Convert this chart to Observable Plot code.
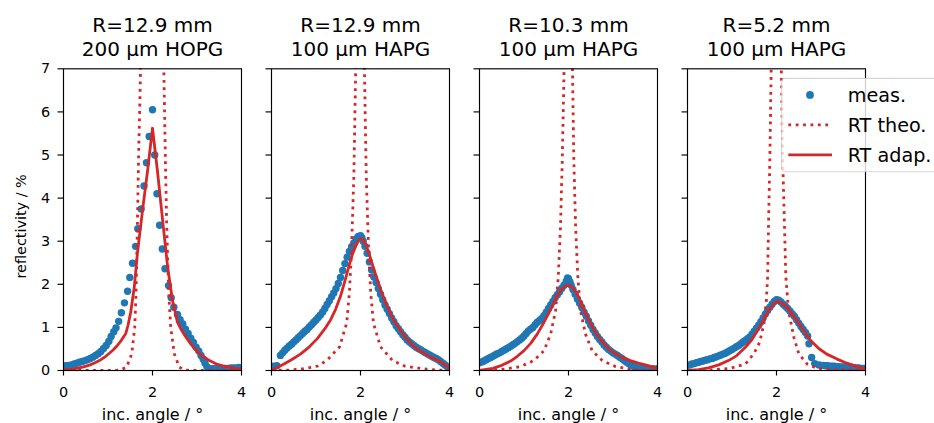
<!DOCTYPE html>
<html><head><meta charset="utf-8">
<script src="https://cdn.jsdelivr.net/npm/d3@7"></script>
<script src="https://cdn.jsdelivr.net/npm/@observablehq/plot@0.6"></script>
<style>
body{margin:0;background:#fff;}
#wrap{position:relative;width:934px;height:423px;overflow:hidden;font-family:"DejaVu Sans";}
</style></head><body><div id="wrap"></div>
<script>
// ---- panel labels ----
const panelIds = [0, 1, 2, 3];
const radius = ["R=12.9 mm", "R=12.9 mm", "R=10.3 mm", "R=5.2 mm"];
const crystal = ["200 µm HOPG", "100 µm HAPG", "100 µm HAPG", "100 µm HAPG"];
const xLabel = "inc. angle / °";
const yLabel = "reflectivity / %";
const xTicks = [0, 2, 4];
const yTicks = [0, 1, 2, 3, 4, 5, 6, 7];
const legendLabels = ["meas.", "RT theo.", "RT adap."];

// ---- panel 1: R=12.9 mm, 200 µm HOPG ----
const meas1 = [[0.00,0.10],[0.06,0.11],[0.12,0.12],[0.18,0.13],[0.24,0.15],[0.30,0.17],[0.36,0.19],[0.42,0.21],[0.48,0.23],[0.54,0.25],[0.60,0.28],[0.66,0.31],[0.72,0.35],[0.78,0.39],[0.84,0.44],[0.90,0.51],[0.96,0.58],[1.02,0.68],[1.07,0.79],[1.13,0.90],[1.18,0.99],[1.24,1.14],[1.30,1.34],[1.37,1.57],[1.44,1.84],[1.49,2.16],[1.55,2.49],[1.62,2.88],[1.67,3.29],[1.745,3.75],[1.81,4.28],[1.865,4.82],[1.925,5.43],[2.00,6.05],[2.05,5.00],[2.10,4.10],[2.16,3.37],[2.22,2.82],[2.28,2.36],[2.36,1.97],[2.42,1.69],[2.48,1.47],[2.56,1.30],[2.62,1.18],[2.68,1.08],[2.74,0.96],[2.80,0.86],[2.86,0.75],[2.92,0.65],[2.98,0.54],[3.04,0.45],[3.09,0.35],[3.14,0.26],[3.18,0.17],[3.22,0.09],[3.28,0.05],[3.34,0.04],[3.40,0.04],[3.46,0.04],[3.52,0.04],[3.58,0.05],[3.64,0.05],[3.70,0.05],[3.76,0.06],[3.82,0.06],[3.88,0.06],[3.94,0.07],[4.00,0.06]];
const theo1 = [[0,0],[1.0,0],[1.2,0.005],[1.30,0.02],[1.42,0.08],[1.535,0.39],[1.60,1.0],[1.63,1.78],[1.66,3.33],[1.685,4.87],[1.72,6.42],[1.73,6.96],[1.76,9],[1.85,11],[2.0,12],[2.15,11],[2.24,9],[2.255,6.96],[2.29,4.87],[2.32,3.33],[2.365,1.78],[2.41,1.0],[2.49,0.39],[2.60,0.08],[2.70,0.02],[2.8,0.005],[3.0,0],[4.0,0]];
const adap1 = [[0,0.01],[0.2,0.03],[0.43,0.08],[0.6,0.13],[0.73,0.19],[0.84,0.25],[0.95,0.33],[1.03,0.40],[1.12,0.48],[1.21,0.58],[1.30,0.70],[1.40,0.86],[1.45,1.05],[1.51,1.35],[1.59,1.93],[1.66,2.71],[1.775,3.71],[1.89,4.64],[2.0,5.62],[2.11,4.64],[2.22,3.56],[2.34,2.40],[2.45,1.62],[2.56,1.12],[2.66,0.92],[2.76,0.76],[2.87,0.60],[2.98,0.47],[3.09,0.36],[3.28,0.23],[3.46,0.14],[3.58,0.11],[3.76,0.07],[3.92,0.04],[4.0,0.03]];

// ---- panel 2: R=12.9 mm, 100 µm HAPG ----
const meas2 = [[0.05,0.10],[0.12,0.11],[0.20,0.35],[0.25,0.41],[0.30,0.47],[0.35,0.52],[0.40,0.57],[0.45,0.61],[0.50,0.66],[0.55,0.71],[0.60,0.76],[0.65,0.81],[0.70,0.86],[0.75,0.91],[0.80,0.95],[0.85,1.01],[0.90,1.06],[0.95,1.12],[1.00,1.17],[1.05,1.23],[1.10,1.29],[1.15,1.36],[1.20,1.44],[1.25,1.53],[1.30,1.62],[1.35,1.71],[1.40,1.80],[1.45,1.90],[1.50,2.02],[1.55,2.16],[1.60,2.32],[1.65,2.48],[1.70,2.63],[1.75,2.76],[1.80,2.87],[1.85,2.96],[1.90,3.05],[1.95,3.11],[2.00,3.13],[2.03,3.08],[2.06,3.00],[2.10,2.88],[2.15,2.72],[2.20,2.52],[2.25,2.33],[2.30,2.17],[2.35,2.04],[2.40,1.90],[2.45,1.77],[2.50,1.64],[2.55,1.52],[2.60,1.42],[2.65,1.32],[2.70,1.22],[2.75,1.13],[2.80,1.04],[2.85,0.97],[2.90,0.90],[2.95,0.83],[3.00,0.77],[3.05,0.71],[3.10,0.66],[3.15,0.62],[3.20,0.58],[3.25,0.54],[3.30,0.51],[3.35,0.48],[3.40,0.45],[3.45,0.42],[3.50,0.39],[3.55,0.36],[3.60,0.33],[3.65,0.30],[3.70,0.28],[3.75,0.25],[3.80,0.21],[3.85,0.17],[3.90,0.13],[3.95,0.09],[4.00,0.07]];
const theo2 = [[0,0],[0.4,0.01],[0.7,0.04],[1.03,0.10],[1.24,0.23],[1.53,0.55],[1.69,1.1],[1.75,1.8],[1.79,2.6],[1.82,3.5],[1.85,4.5],[1.87,5.65],[1.89,6.9],[1.93,10],[1.99,12],[2.05,10],[2.09,6.9],[2.11,5.65],[2.13,4.5],[2.16,3.5],[2.19,2.6],[2.23,1.8],[2.29,1.1],[2.45,0.55],[2.72,0.23],[3.0,0.10],[3.4,0.04],[3.7,0.01],[4.0,0]];
const adap2 = [[0,0.01],[0.15,0.08],[0.28,0.15],[0.45,0.25],[0.65,0.38],[0.85,0.55],[1.03,0.74],[1.20,0.97],[1.33,1.18],[1.44,1.42],[1.55,1.72],[1.65,2.08],[1.74,2.42],[1.82,2.70],[1.89,2.88],[1.95,3.00],[2.00,3.06],[2.05,3.04],[2.11,2.95],[2.19,2.72],[2.28,2.42],[2.37,2.13],[2.48,1.80],[2.60,1.50],[2.75,1.16],[2.90,0.93],[3.01,0.77],[3.15,0.61],[3.27,0.50],[3.42,0.40],[3.57,0.31],[3.70,0.25],[3.80,0.20],[3.90,0.13],[4.00,0.05]];

// ---- panel 3: R=10.3 mm, 100 µm HAPG ----
const meas3 = [[0.00,0.18],[0.05,0.20],[0.10,0.22],[0.15,0.25],[0.20,0.28],[0.25,0.30],[0.30,0.33],[0.35,0.36],[0.40,0.39],[0.45,0.41],[0.50,0.44],[0.55,0.47],[0.60,0.50],[0.65,0.53],[0.70,0.56],[0.75,0.60],[0.80,0.63],[0.85,0.67],[0.90,0.71],[0.95,0.75],[1.00,0.80],[1.05,0.86],[1.10,0.92],[1.15,0.96],[1.20,1.00],[1.25,1.06],[1.30,1.12],[1.35,1.16],[1.40,1.21],[1.45,1.27],[1.50,1.35],[1.55,1.44],[1.60,1.52],[1.65,1.60],[1.70,1.69],[1.75,1.76],[1.80,1.83],[1.85,1.91],[1.90,1.98],[1.95,2.07],[1.98,2.15],[2.00,2.13],[2.03,2.06],[2.06,1.98],[2.10,1.88],[2.15,1.77],[2.20,1.66],[2.25,1.56],[2.30,1.46],[2.35,1.35],[2.40,1.26],[2.45,1.15],[2.50,1.05],[2.55,0.95],[2.60,0.87],[2.65,0.79],[2.70,0.72],[2.75,0.66],[2.80,0.59],[2.85,0.54],[2.90,0.49],[2.95,0.45],[3.00,0.41],[3.05,0.38],[3.10,0.35],[3.15,0.31],[3.20,0.28],[3.25,0.24],[3.30,0.20],[3.35,0.16],[3.40,0.13],[3.45,0.10],[3.50,0.08],[3.60,0.06],[3.70,0.05],[3.80,0.04],[3.90,0.04],[4.00,0.04]];
const theo3 = [[0,0],[0.47,0.02],[0.92,0.09],[1.22,0.23],[1.45,0.46],[1.60,0.85],[1.71,1.39],[1.77,2.17],[1.82,3.33],[1.86,4.87],[1.90,6.96],[1.94,10],[2.0,12],[2.06,10],[2.09,6.96],[2.12,4.87],[2.16,3.33],[2.21,2.17],[2.27,1.39],[2.38,0.85],[2.53,0.46],[2.76,0.23],[3.06,0.09],[3.47,0.02],[4,0]];
const adap3 = [[0,0],[0.3,0.05],[0.5,0.12],[0.7,0.22],[0.85,0.33],[1.0,0.46],[1.15,0.63],[1.30,0.85],[1.45,1.12],[1.60,1.42],[1.72,1.68],[1.82,1.85],[1.92,1.95],[2.0,1.98],[2.08,1.95],[2.18,1.80],[2.31,1.52],[2.45,1.18],[2.60,0.90],[2.72,0.72],[2.87,0.54],[3.02,0.41],[3.20,0.31],[3.39,0.23],[3.57,0.17],[3.77,0.12],[3.90,0.08],[4.0,0.04]];

// ---- panel 4: R=5.2 mm, 100 µm HAPG ----
const meas4 = [[0.00,0.12],[0.05,0.13],[0.10,0.15],[0.15,0.16],[0.20,0.18],[0.25,0.19],[0.30,0.21],[0.35,0.22],[0.40,0.24],[0.45,0.25],[0.50,0.27],[0.55,0.28],[0.60,0.30],[0.65,0.32],[0.70,0.34],[0.75,0.36],[0.80,0.38],[0.85,0.40],[0.90,0.43],[0.95,0.46],[1.00,0.49],[1.05,0.52],[1.10,0.55],[1.15,0.58],[1.20,0.62],[1.25,0.66],[1.30,0.70],[1.35,0.74],[1.40,0.78],[1.45,0.84],[1.50,0.91],[1.55,0.98],[1.60,1.05],[1.65,1.13],[1.70,1.22],[1.75,1.31],[1.80,1.39],[1.85,1.47],[1.90,1.54],[1.95,1.60],[2.00,1.64],[2.05,1.63],[2.10,1.59],[2.15,1.54],[2.20,1.49],[2.25,1.44],[2.30,1.38],[2.35,1.32],[2.40,1.26],[2.45,1.18],[2.50,1.10],[2.55,1.02],[2.60,0.95],[2.65,0.88],[2.70,0.80],[2.73,0.62],[2.79,0.30],[2.86,0.16],[2.95,0.13],[3.00,0.12],[3.05,0.12],[3.10,0.11],[3.15,0.11],[3.20,0.10],[3.25,0.10],[3.30,0.10],[3.35,0.09],[3.40,0.09],[3.45,0.08],[3.50,0.08],[3.55,0.08],[3.60,0.07],[3.65,0.07],[3.70,0.07],[3.75,0.06],[3.80,0.06],[3.85,0.06],[3.90,0.05],[3.95,0.05],[4.00,0.05]];
const theo4 = [[0,0],[0.5,0.01],[0.96,0.05],[1.30,0.15],[1.49,0.39],[1.62,0.65],[1.72,1.1],[1.77,1.6],[1.80,2.17],[1.82,3.33],[1.85,4.87],[1.88,6.96],[1.93,10],[2.0,12],[2.07,10],[2.11,6.96],[2.14,4.87],[2.18,3.33],[2.21,2.17],[2.27,1.39],[2.39,0.77],[2.50,0.39],[2.69,0.15],[2.91,0.05],[3.2,0.03],[3.6,0.02],[4.0,0.01]];
const adap4 = [[0,0],[0.25,0.02],[0.47,0.06],[0.7,0.13],[0.92,0.23],[1.10,0.34],[1.30,0.54],[1.45,0.72],[1.60,0.98],[1.70,1.15],[1.78,1.31],[1.88,1.47],[1.96,1.57],[2.02,1.61],[2.10,1.57],[2.23,1.47],[2.35,1.32],[2.46,1.16],[2.60,0.94],[2.76,0.70],[2.95,0.51],[3.13,0.38],[3.35,0.27],[3.58,0.17],[3.78,0.10],[3.94,0.05],[4.0,0.03]];

const blue = "#1f77b4";
const red = "#d62728";

function rowsOf(list) {
  const out = [];
  list.forEach((pts, panel) => pts.forEach(([x, y]) => out.push({panel, x, y})));
  return out;
}
const measRows = rowsOf([meas1, meas2, meas3, meas4]);
const theoRows = rowsOf([theo1, theo2, theo3, theo4]);
const adapRows = rowsOf([adap1, adap2, adap3, adap4]);

const plot = Plot.plot({
  width: 934,
  height: 423,
  marginLeft: 62.7,
  marginRight: 69,
  marginTop: 68.3,
  marginBottom: 53,
  style: {fontFamily: "DejaVu Sans", fontSize: "14.4px", color: "black", background: "white", overflow: "visible"},
  fx: {domain: panelIds, paddingInner: 0.145, paddingOuter: 0, axis: null},
  x: {domain: [0, 4]},
  y: {domain: [0, 7]},
  marks: [
    Plot.dot(measRows, {fx: "panel", x: "x", y: "y", r: 3.7, fill: blue, clip: true}),
    Plot.line(theoRows, {fx: "panel", x: "x", y: "y", stroke: red, strokeWidth: 2.8, strokeDasharray: "2.8,4.6", strokeLinecap: "butt", clip: true}),
    Plot.line(adapRows, {fx: "panel", x: "x", y: "y", stroke: red, strokeWidth: 2.8, clip: true}),
    Plot.axisY(yTicks, {anchor: "left", tickSize: 5.5, strokeWidth: 1.15, tickFormat: () => "", label: null, facetAnchor: null}),
    Plot.axisY(yTicks, {anchor: "left", tickSize: 0, tickPadding: 13.4, label: null, fontSize: 14.4}),
    Plot.axisX(xTicks, {tickSize: 5.5, strokeWidth: 1.15, tickPadding: 11.2, label: null, fontSize: 14.4}),
    Plot.frame({stroke: "black", strokeWidth: 1.15}),
    Plot.text(panelIds, {fx: d => d, text: d => radius[d] + "\n" + crystal[d], frameAnchor: "top", textAnchor: "middle", lineAnchor: "bottom", dy: -13.3, fontSize: 20, lineHeight: 1.2}),
    Plot.text(panelIds, {fx: d => d, text: () => xLabel, frameAnchor: "bottom", textAnchor: "middle", lineAnchor: "bottom", dy: 49, fontSize: 16}),
    Plot.text([0], {fx: d => d, text: () => yLabel, frameAnchor: "left", textAnchor: "middle", rotate: -90, lineAnchor: "bottom", dx: -37.2, dy: 6.7, fontSize: 14.4})
  ]
});
const wrap = document.getElementById("wrap");
wrap.appendChild(plot);

// ---- legend (overlay in panel 4, top right) ----
const leg = d3.select(wrap).append("svg")
  .attr("width", 934).attr("height", 423)
  .style("position", "absolute").style("left", "0px").style("top", "0px")
  .style("font-family", "DejaVu Sans");
leg.append("rect")
  .attr("x", 781.7).attr("y", 78.3).attr("width", 175).attr("height", 93.4).attr("rx", 4)
  .attr("fill", "rgba(255,255,255,0.8)").attr("stroke", "rgba(204,204,204,0.8)").attr("stroke-width", 1.15);
legendLabels.forEach((lab, i) => {
  const base = 101.7 + i * 30;
  const cy = base - 6.8;
  if (i === 0) {
    leg.append("circle").attr("cx", 810).attr("cy", cy).attr("r", 3.9).attr("fill", blue);
  } else {
    leg.append("line").attr("x1", 788.3).attr("x2", 832).attr("y1", cy).attr("y2", cy)
      .attr("stroke", red).attr("stroke-width", 2.8)
      .attr("stroke-dasharray", i === 1 ? "2.8,4.6" : null);
  }
  leg.append("text").attr("x", 847.7).attr("y", base).attr("font-size", 19.2).attr("fill", "black").text(lab);
});
</script></body></html>
